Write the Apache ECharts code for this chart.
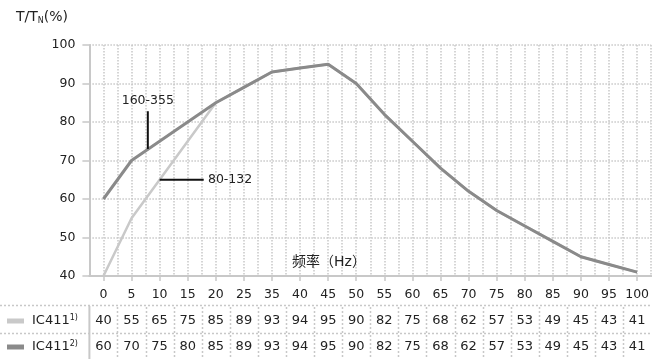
<!DOCTYPE html>
<html>
<head>
<meta charset="utf-8">
<script src="https://cdn.jsdelivr.net/npm/echarts@6/dist/echarts.min.js"></script>
<style>
    html, body { margin: 0; padding: 0; background: #fff; }
    #chart { width: 652px; height: 359px; }
</style>
</head>
<body>
<div id="chart"></div>
<script>
// frequency categories (note: the original skips 30)
const freqLabels = ['0', '5', '10', '15', '20', '25', '35', '40', '45', '50', '55', '60', '65', '70', '75', '80', '85', '90', '95', '100']
const ic411a = [40, 55, 65, 75, 85, 89, 93, 94, 95, 90, 82, 75, 68, 62, 57, 53, 49, 45, 43, 41]
const ic411b = [60, 70, 75, 80, 85, 89, 93, 94, 95, 90, 82, 75, 68, 62, 57, 53, 49, 45, 43, 41]
const seriesNames = ['IC411', 'IC411']
const seriesNotes = ['1)', '2)']
// annotation markers, in (category index, %) coordinates
const mark160 = [[1.58, 73], [1.58, 82.8]]
const mark80 = [[2.0, 65], [3.57, 65]]

const FONT = "'DejaVu Sans', 'Noto Sans CJK SC', sans-serif"
const LIGHT = '#c9c9c9'
const DARK = '#8a8a8a'
const GRID = '#c8c8c8'
const TXT = '#222'

const chart = echarts.init(document.getElementById('chart'))

const option = {
    animation: false,
    textStyle: { fontFamily: FONT },
    grid: { left: 89.4, right: -1.4, top: 45, bottom: 83 },
    xAxis: [
        {
            type: 'category',
            data: freqLabels,
            boundaryGap: true,
            axisLine: { onZero: false, lineStyle: { color: GRID, width: 2 } },
            axisTick: { show: true, interval: 0, alignWithLabel: true, length: 5, lineStyle: { color: GRID, width: 1.5 } },
            axisLabel: { interval: 0, fontSize: 12.5, color: TXT, margin: 12, fontFamily: FONT },
            splitLine: { show: false },
        },
        {
            // hidden helper axis: dotted grid at every half step + annotations
            type: 'value',
            min: -0.5,
            max: 19.5,
            interval: 0.5,
            position: 'bottom',
            axisLine: { show: false, onZero: false },
            axisTick: { show: false },
            axisLabel: { show: false },
            splitLine: { show: true, lineStyle: { color: GRID, type: 'dotted', width: 1.5 } },
        },
    ],
    yAxis: {
        type: 'value',
        min: 40,
        max: 100,
        interval: 10,
        axisLine: { show: true, onZero: false, lineStyle: { color: GRID, width: 2 } },
        axisTick: { show: true, length: 7, lineStyle: { color: GRID, width: 1.5 } },
        axisLabel: { fontSize: 12.5, color: TXT, margin: 14, fontFamily: FONT },
        splitLine: { show: true, lineStyle: { color: GRID, type: 'dotted', width: 1.5 } },
    },
    series: [
        {
            name: 'IC411 1)',
            type: 'line',
            data: ic411a,
            symbol: 'none',
            lineStyle: { color: LIGHT, width: 2.5 },
            z: 3,
        },
        {
            name: 'IC411 2)',
            type: 'line',
            data: ic411b,
            symbol: 'none',
            lineStyle: { color: DARK, width: 3 },
            z: 4,
        },
        {
            type: 'line',
            xAxisIndex: 1,
            data: mark160,
            symbol: 'none',
            lineStyle: { color: '#111', width: 2 },
            z: 5,
            silent: true,
        },
        {
            type: 'line',
            xAxisIndex: 1,
            data: mark80,
            symbol: 'none',
            lineStyle: { color: '#111', width: 2 },
            z: 5,
            silent: true,
        },
    ],
}

chart.setOption(option)

// build the text, annotations and data table below the plot
const px = (i) => chart.convertToPixel({ xAxisIndex: 1 }, i)
const py = (v) => chart.convertToPixel({ yAxisIndex: 0 }, v)
const gridLeft = px(-0.5)
const rowY = [321, 347]
const colors = [LIGHT, DARK]
const rows = [ic411a, ic411b]

const g = []

g.push({
    type: 'text',
    left: 16,
    top: 10,
    style: {
        text: '{a|T/T}{s|N}{a|(%)}',
        rich: {
            a: { fontSize: 14, fontFamily: FONT, fill: TXT },
            s: { fontSize: 8, fontFamily: FONT, fill: TXT, verticalAlign: 'bottom', padding: [7, 0, 0, 0] },
        },
    },
})

g.push({
    type: 'text',
    x: 329,
    y: 262,
    style: { text: '频率（Hz）', fontSize: 14, fontFamily: FONT, fill: TXT, align: 'center', verticalAlign: 'middle' },
})

g.push({
    type: 'text',
    x: px(1.58),
    y: py(85.5),
    style: { text: '160-355', fontSize: 12.5, fontFamily: FONT, fill: TXT, align: 'center', verticalAlign: 'middle' },
})
g.push({
    type: 'text',
    x: px(3.72),
    y: py(65),
    style: { text: '80-132', fontSize: 12.5, fontFamily: FONT, fill: TXT, align: 'left', verticalAlign: 'middle' },
})

// table separators
;[305.5, 333.5].forEach((y) => {
    g.push({
        type: 'line',
        shape: { x1: 0, y1: y, x2: 652, y2: y },
        style: { stroke: GRID, lineWidth: 1.5, lineDash: [2, 2] },
    })
})
g.push({
    type: 'line',
    shape: { x1: gridLeft, y1: 306, x2: gridLeft, y2: 359 },
    style: { stroke: GRID, lineWidth: 2 },
})
for (let i = 0; i < freqLabels.length - 1; i++) {
    const x = Math.round(px(i + 0.5)) + 0.5
    g.push({
        type: 'line',
        shape: { x1: x, y1: 307, x2: x, y2: 359 },
        style: { stroke: GRID, lineWidth: 1.5, lineDash: [2, 2] },
    })
}

rows.forEach((vals, r) => {
    g.push({
        type: 'rect',
        shape: { x: 7, y: rowY[r] - 2.5, width: 17, height: 5 },
        style: { fill: colors[r] },
    })
    g.push({
        type: 'text',
        x: 32,
        y: rowY[r],
        style: {
            text: '{a|' + seriesNames[r] + '}{s|' + seriesNotes[r] + '}',
            verticalAlign: 'middle',
            rich: {
                a: { fontSize: 13, fontFamily: FONT, fill: TXT },
                s: { fontSize: 8, fontFamily: FONT, fill: TXT, verticalAlign: 'top', padding: [0, 0, 6, 0] },
            },
        },
    })
    vals.forEach((v, i) => {
        g.push({
            type: 'text',
            x: px(i),
            y: rowY[r],
            style: { text: String(v), fontSize: 13, fontFamily: FONT, fill: TXT, align: 'center', verticalAlign: 'middle' },
        })
    })
})

chart.setOption({ graphic: g })
</script>
</body>
</html>
